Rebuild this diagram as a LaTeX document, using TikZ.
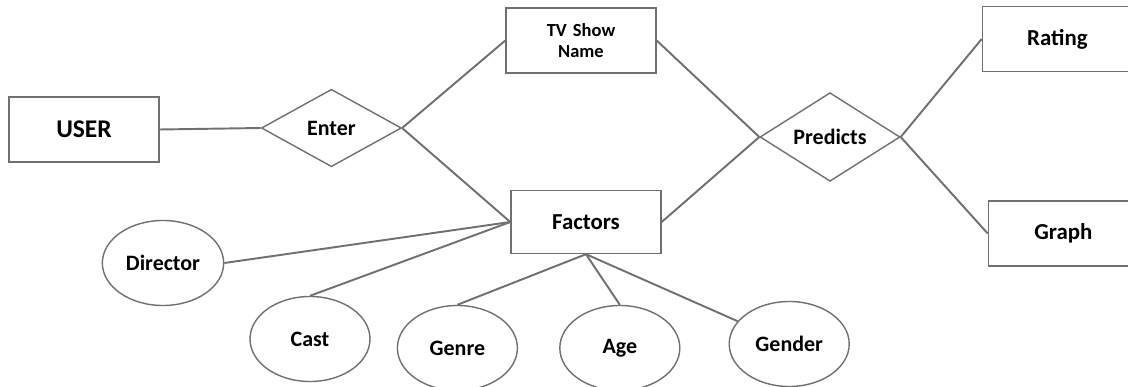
\documentclass[tikz,border=0pt]{standalone}
\usepackage{fontspec}
\setmainfont{Carlito}
\usepackage{tikz}
\usepackage{xcolor}
\usetikzlibrary{shapes.geometric, positioning}
\definecolor{linegray}{RGB}{112,112,112}
\tikzstyle{entity} = [rectangle, minimum width=3cm, minimum height=1.3cm, text centered, draw=linegray, line width=0.8pt, font=\bfseries\fontsize{13}{14}\selectfont]
\tikzstyle{relation} = [diamond, minimum width=2.8cm, minimum height=1.55cm, inner sep=0pt, text centered, draw=linegray, line width=0.8pt, font=\bfseries\fontsize{12.5}{14}\selectfont]
\tikzstyle{attribute} = [ellipse, minimum width=2.4cm, minimum height=1.7cm, text centered, draw=linegray, line width=0.8pt, font=\bfseries\fontsize{12.5}{14}\selectfont]
\tikzstyle{link} = [line width=1.1pt, linegray]

\begin{document}
\begin{tikzpicture}
		\useasboundingbox (0,0) rectangle (22.56,-7.74);
		\node (user) [entity, font=\bfseries\fontsize{14.5}{16}\selectfont] at (1.68,-2.59) {USER};
		\node (enter) [relation, right=2.02cm of user, yshift=0.03cm] {Enter};
		\node (tvshow) [entity, text width=2.6cm, font=\bfseries\fontsize{10.5}{12}\selectfont] at (11.62,-0.81) {TV Show\\Name};
		\node (factors) [entity, minimum height=1.26cm] at (11.72,-4.44) {Factors};
		\node (predicts) [relation, minimum height=1.7cm] at (16.6,-2.74) {Predicts};
		\node (rating) [entity, right=1.62cm of predicts, yshift=1.96cm] {Rating};
		\node (graph) [entity, right=1.74cm of predicts, yshift=-1.93cm] {Graph};
		\node (director) [attribute] at (3.26,-5.26) {Director};
		\node (cast) [attribute] at (6.2,-6.78) {Cast};
		\node (genre) [attribute, right=0.52cm of cast, yshift=-0.18cm] {Genre};
		\node (age) [attribute, right=0.82cm of genre] {Age};
		\node (gender) [attribute, right=0.96cm of age, yshift=0.08cm] {Gender};
		
		\draw [link] (user.east) -- (enter.west);
		\draw [link] (enter.east) -- (tvshow.west);
		\draw [link] (enter.east) -- (factors.west);
		\draw [link] (tvshow.east) -- (predicts.west);
		\draw [link] (factors.east) -- (predicts.west);
		\draw [link] (predicts.east) -- (rating.west);
		\draw [link] (predicts.east) -- (graph.west);
		\draw [link] (director.east) -- (factors.west);
		\draw [link] (cast.north) -- (factors.west);
		\draw [link] (genre.north) -- (factors.south);
		\draw [link] (age.north) -- (factors.south);
		\draw [link] (gender) -- (factors.south);
	\end{tikzpicture}
\end{document}
